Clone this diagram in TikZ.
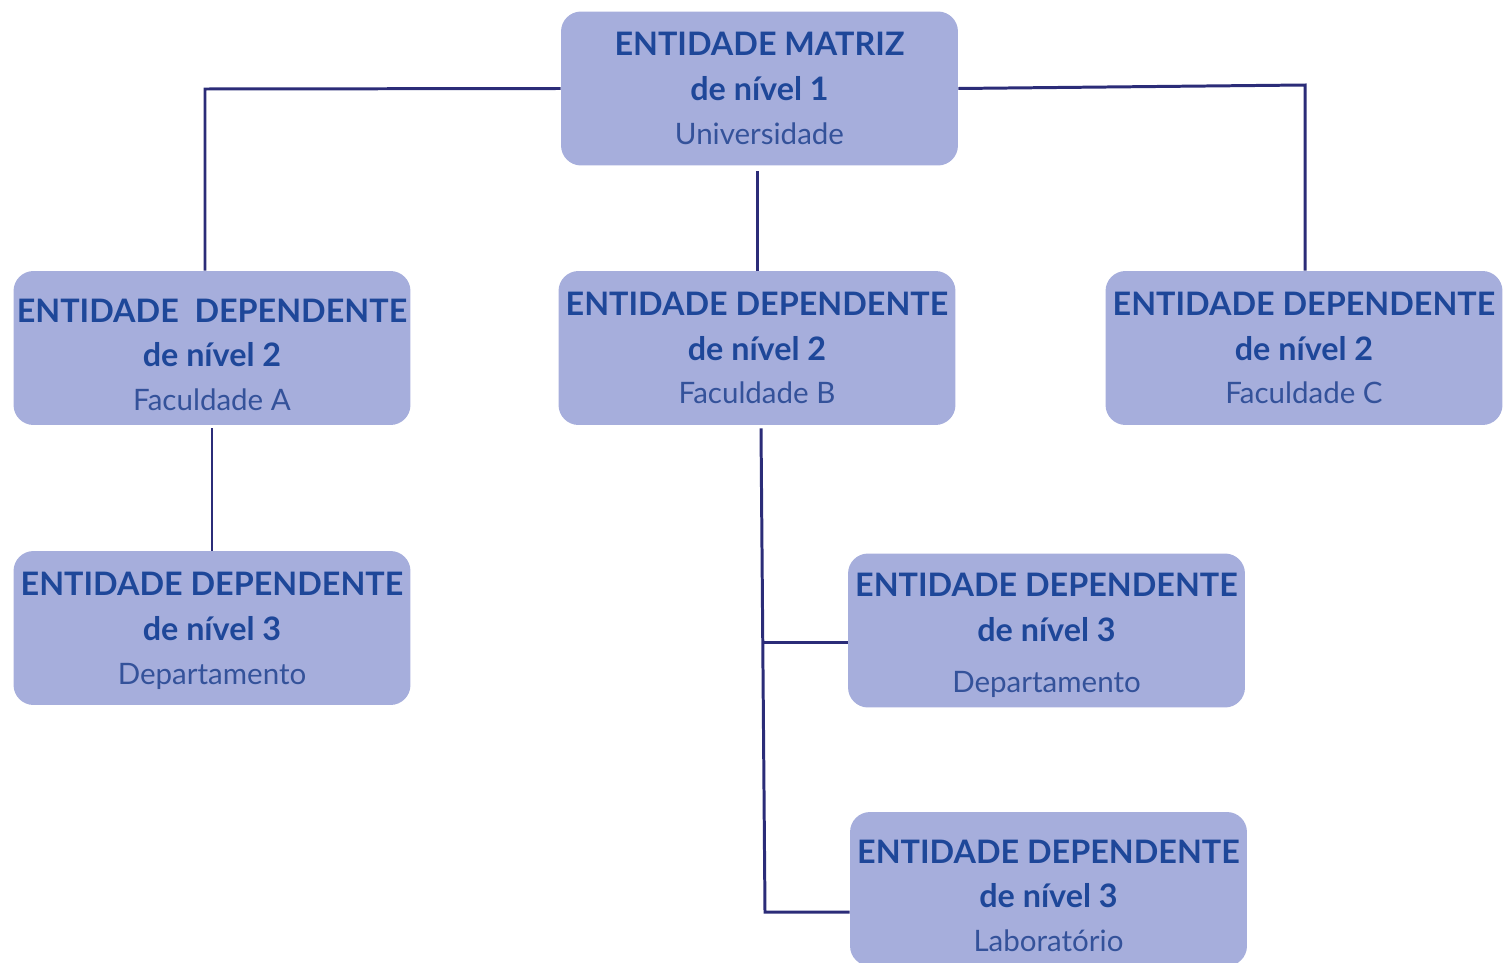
\documentclass[tikz,border=0pt]{standalone}
\usepackage{fontspec}
\setmainfont{Lato}
\definecolor{boxfill}{HTML}{A6AEDC}
\definecolor{titlecol}{HTML}{1E4799}
\definecolor{subcol}{HTML}{34529A}
\definecolor{linecol}{HTML}{2B2C78}
\newcommand{\ttl}[1]{{\bfseries\color{titlecol}#1}}
\newcommand{\sbt}[1]{{\fontsize{16.8}{25}\selectfont\color{subcol}#1}}
\newcommand{\dn}[1]{\rule{0pt}{\dimexpr 0.464cm+#1+#1\relax}}
\begin{document}
\begin{tikzpicture}[x=0.02cm,y=-0.02cm,
  ent/.style={fill=boxfill, rounded corners=0.4cm, minimum width=7.94cm, minimum height=3.08cm, align=center, inner sep=0pt, font=\fontsize{18.4}{25.5}\selectfont},
  conn/.style={draw=linecol, line width=1.7pt}]
\useasboundingbox (0,0) rectangle (1504,963);
\node[ent] (top) at (759.5,88.5) {\ttl{ENTIDADE MATRIZ}\\\ttl{de nível 1}\\[-0.02cm]\sbt{Universidade}};
\node[ent] (fa) at (212,348) {\dn{0.14cm}\ttl{ENTIDADE\ \ DEPENDENTE}\\\ttl{de nível 2}\\[-0.02cm]\sbt{Faculdade A}};
\node[ent] (fb) at (757,348) {\ttl{ENTIDADE DEPENDENTE}\\\ttl{de nível 2}\\[-0.02cm]\sbt{Faculdade B}};
\node[ent] (fc) at (1304,348) {\ttl{ENTIDADE DEPENDENTE}\\\ttl{de nível 2}\\[-0.02cm]\sbt{Faculdade C}};
\node[ent] (dl) at (212,628) {\dn{0.06cm}\ttl{ENTIDADE DEPENDENTE}\\\ttl{de nível 3}\\[-0.02cm]\sbt{Departamento}};
\node[ent] (dr) at (1046.5,630.5) {\dn{0.1cm}\ttl{ENTIDADE DEPENDENTE}\\\ttl{de nível 3}\\[0.12cm]\sbt{Departamento}};
\node[ent] (lab) at (1048.5,889) {\dn{0.14cm}\ttl{ENTIDADE DEPENDENTE}\\\ttl{de nível 3}\\[-0.02cm]\sbt{Laboratório}};
\coordinate (tl) at (205,89);
\coordinate (tr) at (1305,85);
\coordinate (bj) at (763,642);
\coordinate (bk) at (765,912);
\draw[conn] (top.west) -- (tl) -- (tl |- fa.north);
\draw[conn] (top.east) -- (tr) -- (tr |- fc.north);
\draw[conn] ([yshift=-0.1cm]fb.north |- top.south) -- (fb.north);
\draw[conn] ([yshift=-0.06cm]fa.south) -- (dl.north);
\draw[conn] ([xshift=0.08cm,yshift=-0.06cm]fb.south) -- (bk) -- (bk -| lab.west);
\draw[conn] (bj) -- (bj -| dr.west);
\end{tikzpicture}
\end{document}
